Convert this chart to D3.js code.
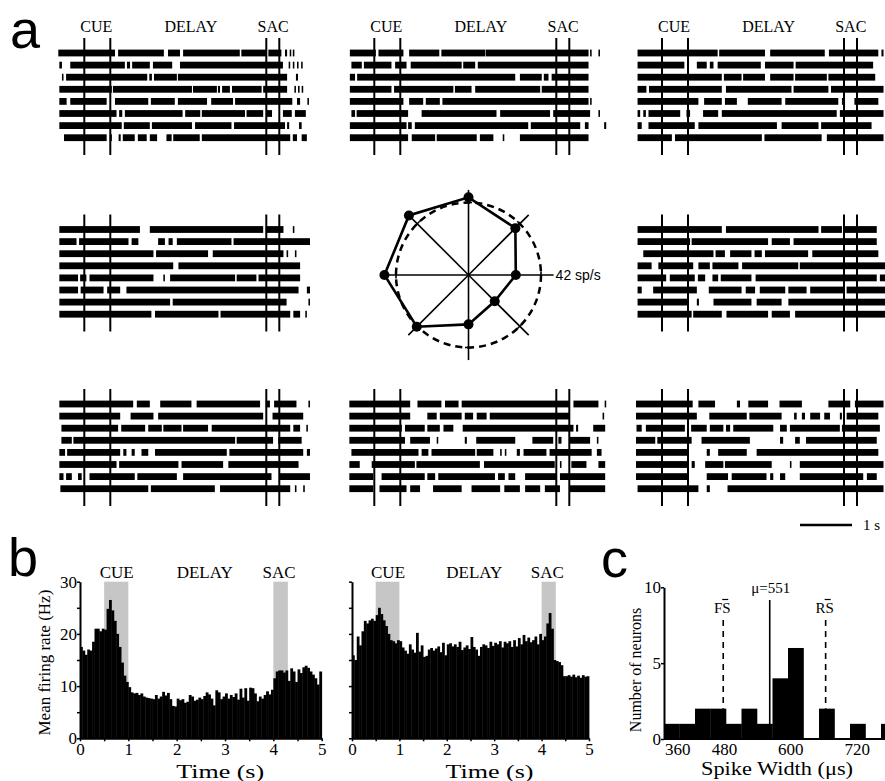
<!DOCTYPE html>
<html>
<head>
<meta charset="utf-8">
<title></title>
<script src="https://d3js.org/d3.v7.min.js"></script>
<style>
body {margin:0; background:#fff;}
text {font-family: "Liberation Serif", "Times New Roman", serif; fill:#000;}
.panel {font-family: "Liberation Sans", Arial, sans-serif; font-size:54px;}
.domain {stroke:#000; stroke-width:2;}
.tick line {stroke:#000; stroke-width:1.5;}
.tick text {font-family: "Liberation Serif", serif; font-size:17px;}
</style>
</head>
<body>
<script>

// task events (s)
var cueLines = [0.5, 1.0];
var sacLines = [4.0, 4.25];
var cueShade = [0.5, 1.0];
var sacShade = [4.0, 4.3];
var epochNames = ["CUE", "DELAY", "SAC"];
var epochLabelT = [0.73, 2.55, 4.13];

// spike rasters: 8 trials each, bursts as [start, end] in s
var rasterTL = [
 [[0.0,1.09],[1.15,2.03],[2.11,2.34],[2.40,3.49],[3.52,4.0],[4.04,4.29],[4.36,4.40],[4.45,4.48],[4.51,4.54]],
 [[0.02,0.07],[0.23,1.28],[1.32,1.38],[1.42,1.76],[1.82,2.19],[2.34,4.32],[4.43,4.46],[4.51,4.54],[4.59,4.62],[4.67,4.70]],
 [[0.07,0.10],[0.15,1.71],[1.75,1.80],[1.84,2.28],[2.30,4.40],[4.57,4.61]],
 [[0.02,1.03],[1.05,2.57],[2.59,3.05],[3.07,3.11],[3.15,3.30],[3.34,3.91],[3.94,4.40],[4.54,4.57],[4.61,4.64],[4.68,4.71]],
 [[0.02,0.16],[0.23,0.93],[1.09,1.73],[1.78,2.24],[2.30,2.86],[2.94,3.36],[3.40,4.50],[4.59,4.65],[4.79,4.82]],
 [[0.02,1.12],[1.17,1.23],[1.28,2.39],[2.44,2.73],[2.76,3.59],[3.62,3.94],[4.01,4.11],[4.32,4.49],[4.55,4.76]],
 [[0.02,1.22],[1.26,1.76],[1.80,2.57],[2.63,3.33],[3.38,4.36],[4.40,4.44],[4.63,4.68]],
 [[0.11,0.93],[0.99,1.03],[1.16,1.20],[1.24,1.47],[1.53,1.70],[1.76,1.90],[2.08,2.18],[2.21,2.72],[2.76,4.46],[4.51,4.59],[4.68,4.78]]
];
var rasterTM = [
 [[0.03,0.53],[0.58,1.06],[1.17,1.75],[1.79,2.63],[2.64,4.62],[4.65,4.68],[4.81,4.84]],
 [[0.06,0.26],[0.30,0.83],[0.90,1.12],[1.20,2.18],[2.21,2.44],[2.49,4.62]],
 [[0.03,0.13],[0.17,3.21],[3.30,3.72],[3.76,3.85],[3.91,4.62]],
 [[0.03,0.83],[0.88,2.02],[2.05,2.37],[2.44,3.69],[3.72,4.62]],
 [[0.03,1.06],[1.17,1.44],[1.49,1.76],[1.81,4.62],[4.65,4.68]],
 [[0.06,0.13],[0.16,1.15],[1.41,2.85],[2.92,3.88],[3.94,4.65],[4.81,4.84]],
 [[0.03,1.12],[1.15,1.22],[1.28,3.46],[3.51,4.46],[4.55,4.62],[4.92,4.96]],
 [[0.03,1.15],[1.22,1.67],[1.70,2.47],[2.53,2.79],[2.97,3.00],[3.30,4.62]]
];
var rasterTR = [
 [[0.03,1.57],[1.60,2.48],[2.58,3.63],[3.71,4.66],[4.72,4.76]],
 [[0.03,0.93],[0.99,1.02],[1.17,1.36],[1.42,1.49],[1.57,2.40],[2.48,3.03],[3.07,4.56]],
 [[0.03,1.65],[1.69,2.03],[2.06,2.48],[2.58,3.03],[3.06,3.67],[3.70,4.60]],
 [[0.03,0.20],[0.25,1.65],[1.73,2.99],[3.03,3.70],[3.75,4.76]],
 [[0.03,1.20],[1.31,1.65],[1.71,1.94],[2.15,2.80],[2.87,3.89],[3.96,4.02],[4.20,4.66]],
 [[0.03,0.08],[0.14,0.19],[0.24,0.85],[0.97,1.04],[1.29,1.58],[1.65,3.86],[3.92,4.76]],
 [[0.03,0.11],[0.24,1.13],[1.20,2.71],[2.80,3.51],[3.56,4.53]],
 [[0.03,0.69],[0.75,2.42],[2.47,3.57],[3.67,4.76]]
];
var rasterML = [
 [[0.02,1.57],[1.76,3.94],[3.99,4.33],[4.51,4.54]],
 [[0.02,0.35],[0.40,1.35],[1.41,1.54],[1.92,2.05],[2.12,2.20],[2.28,3.33],[3.37,4.84]],
 [[0.02,1.83],[1.88,2.88],[2.97,4.33],[4.39,4.42],[4.55,4.58]],
 [[0.02,2.21],[2.31,4.65]],
 [[0.02,0.38],[0.42,0.54],[0.60,1.83],[2.02,2.05],[2.15,3.40],[3.43,3.81],[3.85,4.65]],
 [[0.02,0.38],[0.43,0.87],[0.94,1.19],[1.31,4.62],[4.78,4.84]],
 [[0.02,2.15],[2.20,4.39],[4.81,4.84]],
 [[0.02,1.79],[1.86,3.08],[3.12,4.46],[4.52,4.65],[4.75,4.78]]
];
var rasterMR = [
 [[0.03,1.65],[1.73,3.51],[3.56,3.96],[4.00,4.63]],
 [[0.03,1.04],[1.07,2.54],[2.61,2.96],[3.03,4.63]],
 [[0.14,1.49],[1.53,1.71],[1.81,2.22],[2.28,2.42],[2.48,3.31],[3.39,4.66]],
 [[0.03,0.30],[0.43,1.10],[1.20,1.42],[1.47,1.97],[2.04,3.12],[3.15,4.79]],
 [[0.03,0.58],[0.65,1.13],[1.19,1.33],[1.47,1.58],[1.63,2.22],[2.30,4.63],[4.69,4.79]],
 [[0.03,0.11],[0.33,1.17],[1.40,2.03],[2.11,2.29],[2.38,2.87],[2.93,3.28],[3.35,3.99],[4.05,4.79]],
 [[0.03,1.01],[1.17,1.21],[1.49,2.22],[2.32,2.80],[2.93,4.79]],
 [[0.03,1.07],[1.10,1.65],[1.74,2.54],[2.61,2.96],[3.06,4.79]]
];
var rasterBL = [
 [[0.02,1.44],[1.51,1.76],[1.96,2.56],[2.66,3.88],[3.99,4.07],[4.15,4.58],[4.81,4.84]],
 [[0.02,1.19],[1.39,1.83],[1.92,3.94],[4.12,4.71]],
 [[0.06,1.15],[1.21,1.67],[1.73,1.99],[2.02,2.37],[2.40,2.88],[2.95,4.46],[4.52,4.65],[4.77,4.80]],
 [[0.06,0.26],[0.29,3.40],[3.43,4.13],[4.23,4.68]],
 [[0.02,0.13],[0.17,1.19],[1.25,1.31],[1.41,1.47],[1.60,1.73],[1.86,3.24],[3.29,4.71],[4.78,4.84]],
 [[0.02,1.12],[1.17,2.31],[2.37,3.17],[3.27,4.62]],
 [[0.02,0.10],[0.15,0.26],[0.38,0.45],[0.60,1.47],[1.52,2.28],[2.40,4.10],[4.26,4.84]],
 [[0.04,1.73],[1.78,3.01],[3.11,4.46],[4.55,4.58],[4.71,4.74]]
];
var rasterBM = [
 [[0.02,1.19],[1.33,1.79],[1.86,2.12],[2.18,4.26],[4.33,4.81],[4.93,4.96]],
 [[0.02,1.19],[1.52,1.70],[1.76,2.18],[2.24,2.40],[2.47,2.66],[2.72,4.26],[4.89,4.92]],
 [[0.02,1.03],[1.09,1.47],[1.52,1.76],[1.83,2.02],[2.20,4.33],[4.38,4.42],[4.71,4.94]],
 [[0.02,1.09],[1.19,1.57],[1.70,1.73],[2.24,2.28],[2.46,3.21],[3.54,3.94],[4.04,4.10],[4.26,4.65],[4.78,4.81]],
 [[0.06,1.35],[1.41,1.54],[1.60,2.44],[2.47,2.79],[2.92,2.95],[3.01,3.04],[3.24,3.30],[3.37,3.81],[3.87,4.68],[4.78,4.87]],
 [[0.02,0.22],[0.45,1.28],[1.31,2.53],[2.61,3.97],[4.07,4.10],[4.29,4.58],[4.81,4.94]],
 [[0.02,0.48],[0.64,1.47],[1.52,1.67],[1.73,2.82],[2.88,3.01],[3.08,3.21],[3.40,4.01],[4.07,4.94]],
 [[0.02,0.48],[0.60,1.12],[1.19,1.38],[1.63,2.18],[2.37,2.92],[3.00,3.30],[3.40,3.69],[3.78,4.07],[4.26,4.94]]
];
var rasterBR = [
 [[0.00,1.09],[1.20,1.52],[1.94,2.00],[2.16,2.54],[2.76,3.19],[3.70,4.12],[4.21,4.76]],
 [[0.00,1.17],[1.41,2.13],[2.18,2.80],[3.04,3.09],[3.19,3.25],[3.35,3.54],[3.62,3.73],[3.92,3.96],[4.05,4.66]],
 [[0.01,0.11],[0.19,0.94],[1.06,1.36],[1.42,1.68],[1.73,1.81],[1.87,2.64],[2.77,2.90],[2.96,3.92],[3.96,4.69]],
 [[0.00,0.37],[0.41,1.07],[1.26,2.19],[2.77,2.83],[3.06,3.15],[3.27,4.63]],
 [[0.00,1.01],[1.36,1.42],[1.58,2.13],[2.32,4.66]],
 [[0.00,1.01],[1.07,1.13],[1.33,1.68],[1.71,2.61],[2.96,2.99],[3.15,4.76]],
 [[0.00,1.01],[1.36,1.77],[1.84,2.51],[2.58,2.64],[2.77,2.87],[3.15,4.37],[4.44,4.63]],
 [[0.03,1.20],[1.36,1.42],[1.76,4.76]]
];

// polar tuning (deg, sp/s)
var polarDirs = [0, 45, 90, 135, 180, 225, 270, 315];
var polarRates = [27.4, 38.4, 45.0, 48.8, 48.7, 42.4, 28.6, 21.5];
var polarRef = 42;

// PSTHs, 50 ms bins, Hz
var binW = 0.05;
var psthLeft = [17.5,16.8,16.0,17.0,16.8,18.5,21.0,21.0,20.5,21.0,
 20.8,24.8,26.5,24.5,22.5,20.0,17.5,14.5,12.0,10.8,
 9.8,8.8,8.6,8.7,8.3,8.6,8.0,7.8,7.7,7.6,
 7.5,8.3,7.6,8.0,8.9,8.2,8.7,7.5,6.2,6.1,
 7.6,7.3,7.5,6.8,7.0,8.3,8.0,7.2,7.4,7.8,
 7.5,8.1,8.8,8.4,7.6,6.3,9.2,8.8,7.5,8.0,
 8.6,7.6,8.3,7.9,8.6,7.4,9.5,7.8,9.6,7.2,
 9.7,9.6,8.6,7.1,8.0,7.6,8.3,9.0,8.4,9.3,
 11.5,12.8,13.0,13.0,12.6,13.0,11.0,13.4,12.8,10.8,
 13.2,12.5,13.6,13.9,13.5,12.8,12.2,11.5,10.3,12.8];
var psthRight = [15.9,15.0,19.5,17.8,20.5,22.5,22.0,22.6,22.9,22.5,
 23.6,25.0,23.8,22.6,21.5,20.0,18.8,18.6,18.2,18.8,
 18.6,17.4,16.8,16.2,18.0,17.0,16.4,20.2,16.6,17.8,
 15.6,15.8,17.0,17.3,16.8,17.2,17.6,16.5,18.3,15.9,
 18.0,18.2,17.6,18.0,17.5,18.5,16.9,17.4,17.8,17.1,
 19.4,17.5,17.0,15.8,17.5,18.0,17.8,17.3,18.5,17.7,
 18.3,18.0,18.6,17.4,18.5,18.2,18.6,17.5,18.8,17.6,
 19.2,18.0,19.8,18.6,19.3,18.4,18.8,19.5,18.0,20.0,
 18.8,19.5,22.0,24.0,21.0,15.0,14.8,14.6,14.0,11.9,
 11.9,12.1,11.8,12.2,11.7,12.0,11.6,12.1,11.8,11.9];

// spike width histogram (us)
var widthEdges = [360,388,416,444,472,500,528,556,584,612,640,668,696,724,752,780];
var widthCounts = [1,1,2,2,1,2,1,4,6,0,2,0,1,0,1];
var widthMean = 551;
var fsMean = 467;
var rsMean = 652;
var widthTicks = [360, 480, 600, 720];

var width = 885, height = 781;
var svg = d3.select("body").append("svg")
	.attr("width", width)
	.attr("height", height);
svg.append("rect").attr("width", width).attr("height", height).attr("fill", "#fff");

// ---------- panel a: rasters ----------
var tRaster = d3.scaleLinear().domain([0, 1]).range([0, 52]);
var colX = [58.3, 348.3, 636];
var rowY = [53, 229.5, 404];
var trialStep = 12.1;
var rasters = [
	{c:0, r:0, d:rasterTL}, {c:1, r:0, d:rasterTM}, {c:2, r:0, d:rasterTR},
	{c:0, r:1, d:rasterML}, {c:2, r:1, d:rasterMR},
	{c:0, r:2, d:rasterBL}, {c:1, r:2, d:rasterBM}, {c:2, r:2, d:rasterBR}
];

rasters.forEach(function(p){
	var g = svg.append("g").attr("transform", "translate(" + colX[p.c] + "," + rowY[p.r] + ")");
	p.d.forEach(function(trial, i){
		g.selectAll(null).data(trial).enter().append("rect")
			.attr("x", function(d){ return tRaster(d[0]); })
			.attr("width", function(d){ return tRaster(d[1]) - tRaster(d[0]); })
			.attr("y", i * trialStep - 3.4)
			.attr("height", 6.8)
			.attr("fill", "#000");
	});
	g.selectAll(null).data(cueLines.concat(sacLines)).enter().append("line")
		.attr("x1", tRaster).attr("x2", tRaster)
		.attr("y1", -15).attr("y2", 102)
		.attr("stroke", "#000").attr("stroke-width", 2);
	if (p.r == 0) {
		g.selectAll(null).data(epochNames).enter().append("text")
			.attr("x", function(d, i){ return tRaster(epochLabelT[i]); })
			.attr("y", -21)
			.attr("text-anchor", "middle")
			.style("font-size", "16px")
			.text(function(d){ return d; });
	}
});

// scale bar 1 s
svg.append("line")
	.attr("x1", 800).attr("x2", 800 + tRaster(1))
	.attr("y1", 525).attr("y2", 525)
	.attr("stroke", "#000").attr("stroke-width", 2.5);
svg.append("text").attr("x", 863).attr("y", 529.5).style("font-size", "15px").text("1 s");

// polar plot
var rPolar = d3.scaleLinear().domain([0, polarRef]).range([0, 72.5]);
var pg = svg.append("g").attr("transform", "translate(468.5,275)");
var rad = function(a){ return a * Math.PI / 180; };
var axisLen = rPolar(49.3);

pg.selectAll(null).data(polarDirs).enter().append("line")
	.attr("x1", 0).attr("y1", 0)
	.attr("x2", function(d){ return axisLen * Math.cos(rad(d)); })
	.attr("y2", function(d){ return -axisLen * Math.sin(rad(d)); })
	.attr("stroke", "#000").attr("stroke-width", 1.6);

// small ticks where axes cross the reference circle
pg.selectAll(null).data(polarDirs).enter().append("line")
	.attr("x1", function(d){ return rPolar(polarRef) * Math.cos(rad(d)) - 3.5 * Math.sin(rad(d)); })
	.attr("y1", function(d){ return -rPolar(polarRef) * Math.sin(rad(d)) - 3.5 * Math.cos(rad(d)); })
	.attr("x2", function(d){ return rPolar(polarRef) * Math.cos(rad(d)) + 3.5 * Math.sin(rad(d)); })
	.attr("y2", function(d){ return -rPolar(polarRef) * Math.sin(rad(d)) + 3.5 * Math.cos(rad(d)); })
	.attr("stroke", "#000").attr("stroke-width", 1.6);

pg.append("circle")
	.attr("r", rPolar(polarRef))
	.attr("fill", "none")
	.attr("stroke", "#000").attr("stroke-width", 2.5)
	.attr("stroke-dasharray", "7,5");

var tuning = polarDirs.map(function(d, i){ return {dir:d, rate:polarRates[i]}; });
var radial = d3.lineRadial()
	.angle(function(d){ return rad(90 - d.dir); })
	.radius(function(d){ return rPolar(d.rate); })
	.curve(d3.curveLinearClosed);
pg.append("path").datum(tuning)
	.attr("d", radial)
	.attr("fill", "none")
	.attr("stroke", "#000").attr("stroke-width", 2.6);
pg.selectAll(null).data(tuning).enter().append("circle")
	.attr("cx", function(d){ return rPolar(d.rate) * Math.cos(rad(d.dir)); })
	.attr("cy", function(d){ return -rPolar(d.rate) * Math.sin(rad(d.dir)); })
	.attr("r", 5)
	.attr("fill", "#000");
pg.append("text")
	.attr("x", axisLen + 2).attr("y", 5)
	.style("font-family", "'Liberation Sans', Arial, sans-serif")
	.style("font-size", "14px")
	.text(polarRef + " sp/s");

// ---------- panel b: PSTHs ----------
var yB = d3.scaleLinear().domain([0, 30]).range([738.3, 581.7]);
var xB1 = d3.scaleLinear().domain([0, 5]).range([80, 321.7]);
var xB2 = d3.scaleLinear().domain([0, 5]).range([352, 589]);

function drawPsth(x, vals, withLabels) {
	var g = svg.append("g");
	g.selectAll(null).data([cueShade, sacShade]).enter().append("rect")
		.attr("x", function(d){ return x(d[0]); })
		.attr("width", function(d){ return x(d[1]) - x(d[0]); })
		.attr("y", yB(30)).attr("height", yB(0) - yB(30))
		.attr("fill", "#c6c6c6");
	g.selectAll(null).data(vals).enter().append("rect")
		.attr("x", function(d, i){ return x(i * binW); })
		.attr("width", x(binW) - x(0) + 0.4)
		.attr("y", function(d){ return yB(d); })
		.attr("height", function(d){ return yB(0) - yB(d); })
		.attr("fill", "#000");

	g.selectAll(null).data(epochNames).enter().append("text")
		.attr("x", function(d, i){ return x([0.76, 2.58, 4.12][i]); })
		.attr("y", 578)
		.attr("text-anchor", "middle")
		.style("font-size", "17px")
		.text(function(d){ return d; });

	// x axis
	g.append("g").attr("transform", "translate(0," + yB(0) + ")")
		.call(d3.axisBottom(x).tickValues(d3.range(0, 5.01, 0.5)).tickSize(3).tickSizeOuter(0).tickFormat(""));
	var xa = g.append("g").attr("transform", "translate(0," + yB(0) + ")")
		.call(d3.axisBottom(x).tickValues([0, 1, 2, 3, 4, 5]).tickFormat(d3.format("d")).tickSize(0).tickPadding(5));
	xa.select(".domain").remove();

	// y axis
	g.append("g").attr("transform", "translate(" + x(0) + ",0)")
		.call(d3.axisLeft(yB).tickValues(d3.range(0, 31, 5)).tickSize(3).tickSizeOuter(0).tickFormat(""));
	if (withLabels) {
		var ya = g.append("g").attr("transform", "translate(" + x(0) + ",0)")
			.call(d3.axisLeft(yB).tickValues([0, 10, 20, 30]).tickSize(0).tickPadding(3));
		ya.select(".domain").remove();
		g.append("text")
			.attr("transform", "translate(50," + yB(14.5) + ") rotate(-90)")
			.attr("text-anchor", "middle")
			.style("font-size", "17px")
			.text("Mean firing rate (Hz)");
	}
	g.append("text")
		.attr("x", x(2.9)).attr("y", 778)
		.attr("text-anchor", "middle")
		.attr("textLength", 88).attr("lengthAdjust", "spacingAndGlyphs")
		.style("font-size", "19px")
		.text("Time (s)");
}
drawPsth(xB1, psthLeft, true);
drawPsth(xB2, psthRight, false);

// ---------- panel c: spike width histogram ----------
var xC = d3.scaleLinear().domain([360, 780]).range([664, 896.5]);
var yC = d3.scaleLinear().domain([0, 10]).range([739, 587.3]);
var gc = svg.append("g");

gc.selectAll(null).data(widthCounts).enter().append("rect")
	.attr("x", function(d, i){ return xC(widthEdges[i]); })
	.attr("width", function(d, i){ return xC(widthEdges[i + 1]) - xC(widthEdges[i]) + 0.3; })
	.attr("y", function(d){ return yC(d); })
	.attr("height", function(d){ return yC(0) - yC(d); })
	.attr("fill", "#000");

gc.append("line")
	.attr("x1", xC(360)).attr("x2", width)
	.attr("y1", yC(0)).attr("y2", yC(0))
	.attr("stroke", "#000").attr("stroke-width", 2);
gc.append("g").attr("transform", "translate(" + xC(360) + ",0)")
	.call(d3.axisLeft(yC).tickValues([0, 5, 10]).tickSize(3).tickSizeOuter(0).tickFormat(""));
var yca = gc.append("g").attr("transform", "translate(" + xC(360) + ",0)")
	.call(d3.axisLeft(yC).tickValues([0, 5, 10]).tickSize(0).tickPadding(3));
yca.select(".domain").remove();

gc.selectAll(null).data(widthTicks).enter().append("text")
	.attr("x", function(d, i){ return i == 0 ? xC(d) + 1 : xC(d) - 6; })
	.attr("y", 755)
	.attr("text-anchor", function(d, i){ return i == 0 ? "start" : "middle"; })
	.style("font-size", "17px")
	.text(function(d){ return d; });

gc.append("text")
	.attr("transform", "translate(641," + yC(4.55) + ") rotate(-90)")
	.attr("text-anchor", "middle")
	.style("font-size", "16px")
	.text("Number of neurons");
gc.append("text")
	.attr("x", 777).attr("y", 775)
	.attr("text-anchor", "middle")
	.attr("textLength", 152).attr("lengthAdjust", "spacingAndGlyphs")
	.style("font-size", "19px")
	.text("Spike Width (\u03bcs)");

// mean line
gc.append("line")
	.attr("x1", xC(widthMean)).attr("x2", xC(widthMean))
	.attr("y1", 600).attr("y2", yC(0))
	.attr("stroke", "#000").attr("stroke-width", 1.6);
gc.append("text")
	.attr("x", xC(widthMean) + 1).attr("y", 593)
	.attr("text-anchor", "middle")
	.style("font-size", "15px")
	.text("\u03bc=" + widthMean);

// FS / RS means
[{v:fsMean, n:"FS"}, {v:rsMean, n:"RS"}].forEach(function(m){
	var x = xC(m.v);
	gc.append("line")
		.attr("x1", x).attr("x2", x)
		.attr("y1", 620).attr("y2", yC(2))
		.attr("stroke", "#000").attr("stroke-width", 1.6)
		.attr("stroke-dasharray", "6,5");
	gc.append("text")
		.attr("x", x - 1).attr("y", 613)
		.attr("text-anchor", "middle")
		.style("font-size", "15px")
		.text(m.n);
	gc.append("line")
		.attr("x1", x - 1).attr("x2", x + 5)
		.attr("y1", 599.5).attr("y2", 599.5)
		.attr("stroke", "#000").attr("stroke-width", 1.2);
});

// panel letters
svg.append("text").attr("class", "panel").attr("x", 10).attr("y", 48).text("a");
svg.append("text").attr("class", "panel").attr("x", 8).attr("y", 576).text("b");
svg.append("text").attr("class", "panel").attr("x", 601).attr("y", 577).text("c");

</script>
</body>
</html>
